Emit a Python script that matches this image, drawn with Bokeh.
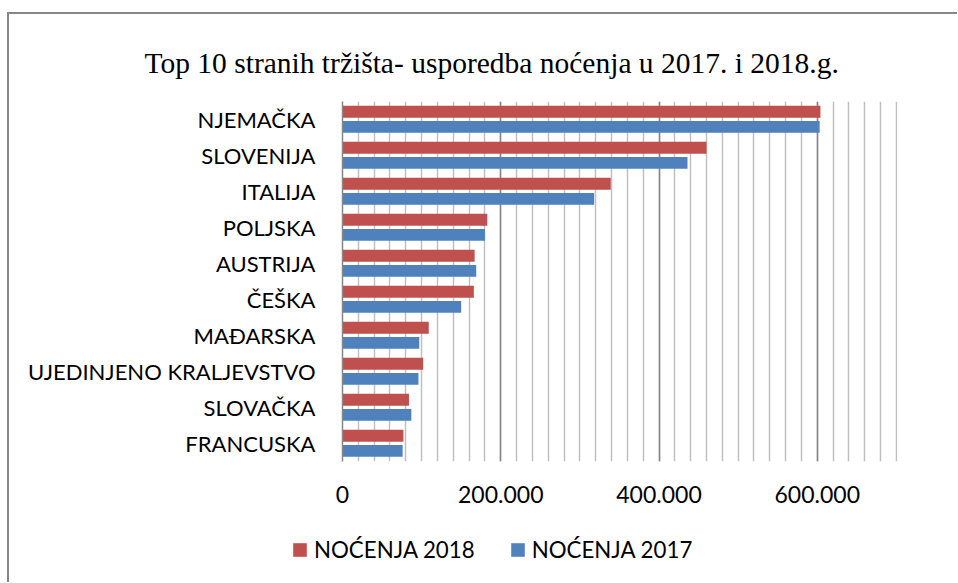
from bokeh.plotting import figure
from bokeh.layouts import column
from bokeh.models import (FactorRange, FixedTicker, Grid, Legend, LegendItem,
                          ColumnDataSource, Range1d)
from bokeh.transform import dodge
from bokeh.embed import file_html
from bokeh.resources import INLINE

countries = ["NJEMAČKA", "SLOVENIJA", "ITALIJA", "POLJSKA", "AUSTRIJA", "ČEŠKA",
             "MAĐARSKA", "UJEDINJENO KRALJEVSTVO", "SLOVAČKA", "FRANCUSKA"]
nocenja_2018 = [604000, 460000, 339000, 183000, 167000, 166000, 109000, 102000, 84000, 77000]
nocenja_2017 = [603000, 436000, 318000, 180000, 169000, 150000, 97000, 96000, 87000, 76000]
series_labels = ["NOĆENJA 2018", "NOĆENJA 2017"]
x_ticks = [0, 200000, 400000, 600000]
tick_labels = ["0", "200.000", "400.000", "600.000"]
minor_step = 20000
x_max = 700000
title_text = "Top 10 stranih tržišta- usporedba noćenja u 2017. i 2018.g."

RED = "#C0504D"
BLUE = "#4F81BD"
LABEL_FONT = "Lato"

src = ColumnDataSource(dict(country=countries, y2018=nocenja_2018, y2017=nocenja_2017))

p = figure(width=948, height=520, output_backend="svg", toolbar_location=None,
           y_range=FactorRange(factors=countries[::-1], range_padding=0),
           x_range=(0, x_max * 1.002),
           min_border_left=333, min_border_right=60, min_border_top=87, min_border_bottom=73)
p.frame_align = False
p.outline_line_color = None
p.background_fill_color = "white"
p.border_fill_color = "white"

r18 = p.hbar(y=dodge("country", 0.215, range=p.y_range), right="y2018", height=0.33,
             source=src, color=RED, line_color=None)
r17 = p.hbar(y=dodge("country", -0.205, range=p.y_range), right="y2017", height=0.33,
             source=src, color=BLUE, line_color=None)

# grids
p.ygrid.grid_line_color = None
p.xgrid.grid_line_color = None
minor_grid = Grid(dimension=0, ticker=FixedTicker(ticks=list(range(0, x_max + 1, minor_step))),
                  grid_line_color="#c0c0c0", grid_line_width=1.5, level="underlay")
major_grid = Grid(dimension=0, ticker=FixedTicker(ticks=x_ticks),
                  grid_line_color="#868686", grid_line_width=1.5, level="underlay")
p.add_layout(minor_grid)
p.add_layout(major_grid)

# x axis
xa = p.xaxis[0]
xa.ticker = FixedTicker(ticks=x_ticks)
xa.major_label_overrides = {t: l for t, l in zip(x_ticks, tick_labels)}
xa.axis_line_color = None
xa.major_tick_line_color = None
xa.minor_tick_line_color = None
xa.major_tick_out = 0
xa.minor_tick_out = 0
xa.major_label_text_font = LABEL_FONT
xa.major_label_text_font_size = "23px"
xa.major_label_text_color = "#000000"
xa.major_label_standoff = 24

# y axis
ya = p.yaxis[0]
ya.axis_line_color = "#868686"
ya.axis_line_width = 1.5
ya.major_tick_line_color = None
ya.minor_tick_line_color = None
ya.major_tick_out = 0
ya.minor_tick_out = 0
ya.major_label_text_font = LABEL_FONT
ya.major_label_text_font_size = "22px"
ya.major_label_text_color = "#000000"
ya.major_label_standoff = 27

# title
p.title.text = title_text
p.title.text_font = "Liberation Serif"
p.title.text_font_size = "29.5px"
p.title.text_font_style = "normal"
p.title.text_color = "#000000"
p.title.align = "left"
p.title.vertical_align = "top"
p.title.offset = -198
p.title.standoff = 42
try:
    p.title.padding = (0, 0, 11, 0)
except Exception:
    pass

# legend strip: a small figure below the chart holding the same series (kept out of view)
lf = figure(width=948, height=48, output_backend="svg", toolbar_location=None,
            x_range=Range1d(-2 * x_max, -x_max),
            y_range=FactorRange(factors=countries[::-1]),
            x_axis_location=None, y_axis_location=None,
            min_border_left=0, min_border_right=0, min_border_top=0, min_border_bottom=0)
lf.frame_align = False
lf.grid.visible = False
lf.outline_line_color = None
lf.background_fill_color = "white"
lf.border_fill_color = "white"
k18 = lf.hbar(y="country", right="y2018", height=0.33, source=src, color=RED, line_color=None)
k17 = lf.hbar(y="country", right="y2017", height=0.33, source=src, color=BLUE, line_color=None)
legend = Legend(items=[LegendItem(label=series_labels[0], renderers=[k18]),
                       LegendItem(label=series_labels[1], renderers=[k17])],
                orientation="horizontal", location=(282, 19),
                padding=0, margin=0, spacing=34, label_standoff=6,
                glyph_width=17, glyph_height=17, label_height=20,
                border_line_color=None, background_fill_alpha=0,
                label_text_font=LABEL_FONT, label_text_font_size="22.3px",
                label_text_color="#000000")
lf.add_layout(legend)

layout = column(p, lf, spacing=0, margin=(12, 0, 0, 7),
                styles={"border-top": "2px solid #868686", "border-left": "2px solid #868686"})

open("out.html", "w").write(file_html(layout, INLINE))
